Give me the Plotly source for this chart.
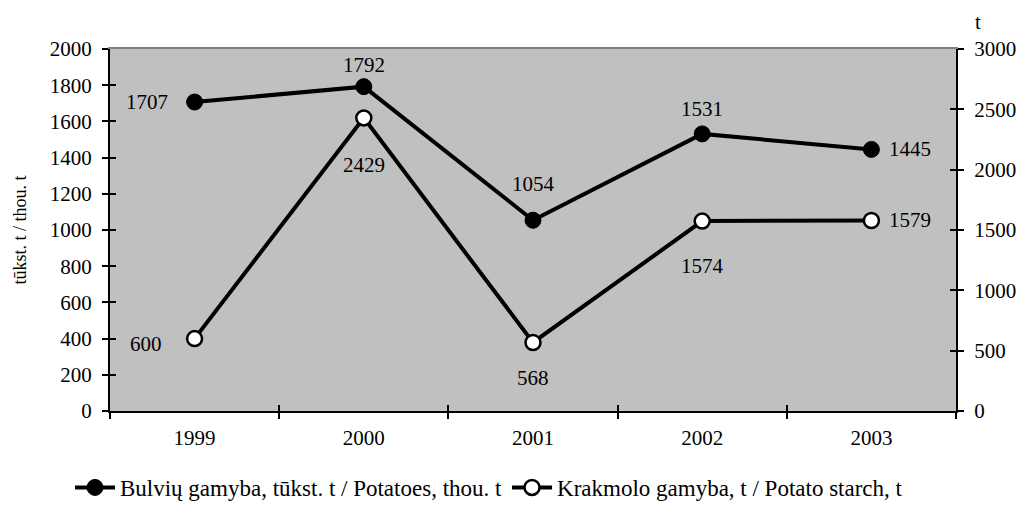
import plotly.graph_objects as go

years = ["1999", "2000", "2001", "2002", "2003"]
potatoes = [1707, 1792, 1054, 1531, 1445]
starch = [600, 2429, 568, 1574, 1579]
pot_name = "Bulvių gamyba, tūkst. t / Potatoes, thou. t"
sta_name = "Krakmolo gamyba, t / Potato starch, t"
left_title = "tūkst. t / thou. t"
right_title = "t"

# label offsets (pixels)
pot_shift = [(-48, 0), (0, 22), (0, 36), (0, 25), (39, 0)]
sta_shift = [(-49, -5), (0, -47), (0, -36), (0, -45), (39, 0)]

FONT = "Liberation Serif"
FS = 21
xi = list(range(len(years)))
bounds = [i - 0.5 for i in range(len(years) + 1)]

W, H = 1017, 509
L, T = 110, 49
R = W - 956
B = H - 411
pw, ph = W - L - R, H - T - B

fig = go.Figure()
fig.add_trace(go.Scatter(
    x=xi, y=potatoes, name=pot_name, mode="lines+markers",
    line=dict(color="black", width=4),
    marker=dict(size=16, color="black", line=dict(color="black", width=1)),
    yaxis="y", xaxis="x"))
fig.add_trace(go.Scatter(
    x=xi, y=starch, name=sta_name, mode="lines+markers",
    line=dict(color="black", width=4),
    marker=dict(size=15, color="white", line=dict(color="black", width=2.5)),
    yaxis="y2", xaxis="x"))
# invisible helper traces for crossing-tick overlay axes
for xa, ya in [("x2", "y3"), ("x2", "y4"), ("x3", "y3"), ("x4", "y4")]:
    fig.add_trace(go.Scatter(x=[xi[0]], y=[0], xaxis=xa, yaxis=ya, mode="lines",
                             showlegend=False, hoverinfo="skip",
                             line=dict(width=0)))

ann = []
for i, (v, (dx, dy)) in enumerate(zip(potatoes, pot_shift)):
    ann.append(dict(x=xi[i], y=v, xref="x", yref="y", text=str(v), showarrow=False,
                    xshift=dx, yshift=dy, font=dict(family=FONT, size=FS, color="black")))
for i, (v, (dx, dy)) in enumerate(zip(starch, sta_shift)):
    ann.append(dict(x=xi[i], y=v, xref="x", yref="y2", text=str(v), showarrow=False,
                    xshift=dx, yshift=dy, font=dict(family=FONT, size=FS, color="black")))
ann.append(dict(x=(983 - L) / pw, y=(H - B - 22) / ph, xref="paper", yref="paper",
                text=right_title, showarrow=False, yanchor="middle",
                font=dict(family=FONT, size=FS, color="black")))

tickfont = dict(family=FONT, size=FS, color="black")
common = dict(showgrid=False, zeroline=False, tickwidth=2, tickcolor="black", ticklen=6,
              automargin=False)
xr = [-0.5, len(years) - 0.5]

fig.update_layout(
    width=W, height=H,
    margin=dict(l=L, r=R, t=T, b=B, autoexpand=False),
    plot_bgcolor="#C0C0C0", paper_bgcolor="white",
    font=dict(family=FONT, size=FS, color="black"),
    showlegend=True,
    legend=dict(orientation="h", xref="container", yref="container", x=70 / W, xanchor="left",
                y=0.0, yanchor="bottom", font=dict(family=FONT, size=23, color="black"),
                bgcolor="rgba(0,0,0,0)", itemwidth=40, tracegroupgap=0),
    xaxis=dict(range=xr, tickmode="array", tickvals=bounds,
               ticktext=[""] * len(bounds), ticks="outside", showline=True,
               linecolor="black", linewidth=2, **common),
    xaxis2=dict(range=xr, overlaying="x", anchor="y3", side="bottom",
                tickmode="array", tickvals=xi, ticktext=years, ticks="", showline=False,
                tickfont=tickfont, ticklabelstandoff=12, showgrid=False, zeroline=False,
                automargin=False),
    xaxis3=dict(range=xr, overlaying="x", anchor="y3", side="top",
                tickmode="array", tickvals=bounds, ticks="", showticklabels=False,
                showline=True, linecolor="#808080", linewidth=2, showgrid=False,
                zeroline=False, automargin=False),
    xaxis4=dict(range=xr, overlaying="x", anchor="y4", side="bottom", tickmode="array",
                tickvals=bounds, ticktext=[""] * len(bounds), ticks="inside",
                showline=False, **common),
    yaxis=dict(range=[0, 2000], dtick=200, tickmode="linear", ticks="outside", showline=True,
               linecolor="black", linewidth=2, tickfont=tickfont, ticklabelstandoff=6,
               title=dict(text=left_title, font=dict(family=FONT, size=18, color="black"),
                          standoff=18), **common),
    yaxis2=dict(range=[0, 3000], dtick=500, tickmode="linear", overlaying="y", side="right",
                anchor="x", ticks="outside", showline=True, linecolor="black", linewidth=2,
                tickfont=tickfont, ticklabelstandoff=6, **common),
    yaxis3=dict(range=[0, 2000], dtick=200, tickmode="linear", overlaying="y", side="left",
                anchor="x2", ticks="inside", showticklabels=False, showline=False, **common),
    yaxis4=dict(range=[0, 3000], dtick=500, tickmode="linear", overlaying="y", side="right",
                anchor="x2", ticks="inside", showticklabels=False, showline=False, **common),
    annotations=ann,
)
fig.write_html("out.html", config={"displayModeBar": False},
               post_script="document.body.style.margin='0';document.body.style.overflow='hidden';")
